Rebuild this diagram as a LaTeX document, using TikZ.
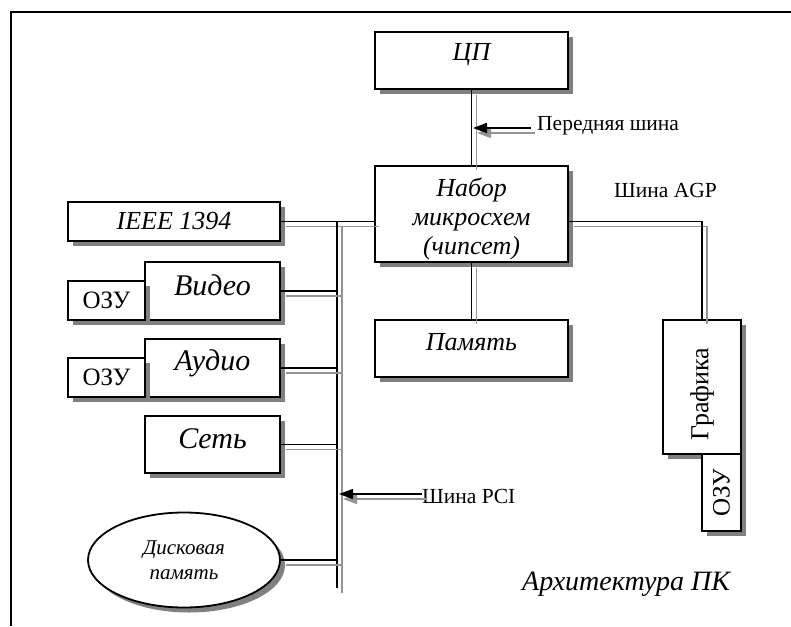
\documentclass[tikz,border=0pt]{standalone}
\usepackage{fontspec}
\setmainfont{Liberation Serif}
\usepackage{graphicx}
\usetikzlibrary{shadows,arrows.meta,shapes.geometric}
\definecolor{shade}{gray}{0.5}
\definecolor{trace}{gray}{0.58}
% a bus line: a grey copy offset down-right, then the black line
\newcommand\busline[1]{%
  \draw[trace, line width=1.6pt, transform canvas={shift={(5pt,-5pt)}}] #1;
  \draw[line width=1.6pt] #1;}
% move a caption inside its box without changing the box size
\newcommand\nudged[2]{\raisebox{#1}[\height][\depth]{#2}}
\begin{document}
\begin{tikzpicture}[x=1pt,y=-1pt,
  box/.style={draw, line width=1.8pt, fill=white, inner sep=0pt,
    general shadow={fill=shade, shadow xshift=5pt, shadow yshift=-5pt}},
  big/.style={font=\fontsize{26}{29}\selectfont\itshape},
  huge/.style={font=\fontsize{30}{33}\selectfont\itshape},
  plain/.style={font=\fontsize{21.5}{24}\selectfont},
  ram/.style={font=\fontsize{25}{28}\selectfont},
  pointer/.style={line width=1.6pt, -{Triangle[length=14pt,width=10pt]}},
]
\useasboundingbox (0,0) rectangle (791,626);

% outer frame
\draw[line width=1.8pt] (11,626) -- (11,12) -- (791,12);

% central column
\node[box, big, minimum width=193pt, minimum height=57pt] (cpu) at (471.5,60.5) {\nudged{6pt}{ЦП}};
\node[box, big, minimum width=193pt, minimum height=96pt] (chip) at (471.5,214)
  {\nudged{-6pt}{\begin{tabular}{@{}c@{}}Набор\\микросхем\\(чипсет)\end{tabular}}};
\node[box, big, minimum width=193pt, minimum height=57pt] (mem) at (471.5,348.5) {\nudged{6pt}{Память}};

% PCI devices
\node[box, big, minimum width=212pt, minimum height=39pt] (ieee) at (174,221.5) {IEEE 1394};
\node[box, huge, minimum width=135pt, minimum height=58pt] (video) at (212.5,291) {\nudged{6pt}{Видео}};
\node[box, ram, minimum width=77pt, minimum height=39pt] (ramv) at (106.5,300.5) {ОЗУ};
\node[box, huge, minimum width=135pt, minimum height=58pt] (audio) at (212.5,368) {\nudged{5pt}{Аудио}};
\node[box, ram, minimum width=77pt, minimum height=39pt] (rama) at (106.5,377.5) {ОЗУ};
\node[box, huge, minimum width=135pt, minimum height=57pt] (net) at (212.5,444.5) {\nudged{6pt}{Сеть}};
\node[box, ellipse, minimum width=192pt, minimum height=95pt, align=center,
  font=\fontsize{21}{25}\selectfont\itshape] (disk) at (184,560) {Дисковая\\память};

% AGP graphics
\node[box, minimum width=78pt, minimum height=134pt, font=\fontsize{26}{29}\selectfont]
  (gfx) at (702,387) {\rotatebox{90}{Графика\hspace*{14pt}}};
\node[box, minimum width=39pt, minimum height=77pt, ram] (ramg) at (721.5,492.5)
  {\rotatebox{90}{ОЗУ}};

% bus corners
\coordinate (pcitop) at (337,221.5);
\coordinate (pcibot) at (337,588);
\coordinate (agpturn) at (702,221.5);

% buses
\busline{(cpu.south) -- (chip.north)}
\busline{(chip.south) -- (mem.north)}
\busline{(ieee.east) -- (ieee.east -| chip.west)}
\busline{(chip.east |- ieee.east) -- (agpturn) -- (gfx.north)}
\busline{(pcitop) -- (pcibot)}
\busline{(video.east) -- (video.east -| pcitop)}
\busline{(audio.east) -- (audio.east -| pcitop)}
\busline{(net.east) -- (net.east -| pcitop)}
\busline{(disk.east) -- (disk.east -| pcitop)}

% bus labels with pointers
\node[plain, anchor=base west, inner sep=0pt] (fsb) at (537,130) {Передняя шина};
\coordinate (fsbtail) at (531,128);
\coordinate (fsbtip) at (473,128);
\draw[pointer, trace, transform canvas={shift={(4pt,-5pt)}}] (fsbtail) -- (fsbtip);
\draw[pointer] (fsbtail) -- (fsbtip);

\node[plain, anchor=base west, inner sep=0pt] (agp) at (614,197) {Шина AGP};

\node[plain, anchor=base west, inner sep=0pt] (pci) at (422,503) {Шина PCI};
\coordinate (pcitail) at (422,494);
\coordinate (pcitip) at (339,494);
\draw[pointer, trace, transform canvas={shift={(4pt,-5pt)}}] (pcitail) -- (pcitip);
\draw[pointer] (pcitail) -- (pcitip);

% caption
\node[anchor=base west, inner sep=0pt, font=\fontsize{28}{31}\selectfont\itshape] (title)
  at (522,590) {Архитектура ПК};
\end{tikzpicture}
\end{document}
